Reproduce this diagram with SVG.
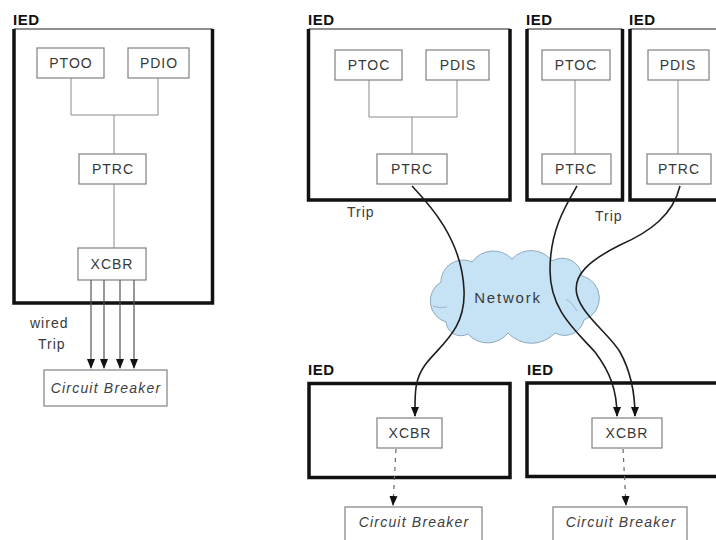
<svg xmlns="http://www.w3.org/2000/svg" width="716" height="540" viewBox="0 0 716 540">
  <style>
    .lbl { font-family: "Liberation Sans", Arial, sans-serif; font-size: 14px; fill: #383838; letter-spacing: 1px; }
    .ied { font-family: "Liberation Sans", Arial, sans-serif; font-size: 15px; font-weight: bold; fill: #111; letter-spacing: 0.5px; }
    .cb { font-family: "Liberation Sans", Arial, sans-serif; font-size: 14px; font-style: italic; fill: #404040; letter-spacing: 1.2px; }
    .ln { font-family: "Liberation Sans", Arial, sans-serif; font-size: 14px; fill: #3a3a3a; letter-spacing: 1px; }
    .box { fill: #fff; stroke: #808080; stroke-width: 1.2; }
    .thin { fill: none; stroke: #222; stroke-width: 1.2; }
    .thick { fill: none; stroke: #111; stroke-width: 3.5; }
    .wire { fill: none; stroke: #8a8a8a; stroke-width: 1; }
    .trip { fill: none; stroke: #1e1e1e; stroke-width: 1.6; }
    .hard { fill: none; stroke: #555; stroke-width: 1.2; }
    .dash { fill: none; stroke: #666; stroke-width: 1.2; stroke-dasharray: 4 5; }
  </style>
  <defs>
    <marker id="arrow" markerUnits="userSpaceOnUse" markerWidth="10" markerHeight="10" viewBox="0 0 10 10" refX="9" refY="5" orient="auto">
      <path d="M0,1 L10,5 L0,9 Z" fill="#111"/>
    </marker>
  </defs>

  <rect width="716" height="540" fill="#fff"/>

  <!-- IED frames -->
  <g id="ied-left">
    <text class="ied" x="13" y="25">IED</text>
    <path class="thin" d="M14 29 H212.5"/>
    <path class="thick" d="M14 29 V303 H212.5 V29"/>
  </g>
  <g id="ied-top-mid">
    <text class="ied" x="308" y="25">IED</text>
    <path class="thin" d="M308.5 29 H510"/>
    <path class="thick" d="M308.5 29 V200 H510 V29"/>
  </g>
  <g id="ied-top-right-a">
    <text class="ied" x="526" y="25">IED</text>
    <path class="thin" d="M527 29 H622.5"/>
    <path class="thick" d="M527 29 V200 H622.5 V29"/>
  </g>
  <g id="ied-top-right-b">
    <text class="ied" x="629" y="25">IED</text>
    <path class="thin" d="M630 29 H720"/>
    <path class="thick" d="M630 29 V200 H720"/>
  </g>
  <g id="ied-bottom-left">
    <text class="ied" x="308" y="375">IED</text>
    <rect class="thick" x="309" y="383.5" width="201" height="94"/>
  </g>
  <g id="ied-bottom-right">
    <text class="ied" x="527" y="375">IED</text>
    <path class="thick" d="M722 383 H527 V476.5 H722"/>
  </g>

  <!-- Network cloud -->
  <g id="network">
    <path d="M446 322 A22 22 0 0 1 441 282 A22 22 0 0 1 472 262 A26 26 0 0 1 512 259 A26 26 0 0 1 552 261 A20 20 0 0 1 582 276 A23 23 0 0 1 584 320 A20 20 0 0 1 555 333 A32 32 0 0 1 508 333 A26 26 0 0 1 468 334 A15 15 0 0 1 446 322 Z" fill="#c6e3f6" stroke="#8fa8bc" stroke-width="1"/>
    <path d="M433 306 Q440 309 447 307" fill="none" stroke="#8fa8bc" stroke-width="0.8"/>
    <path d="M566 299 Q573 303 577 311" fill="none" stroke="#8fa8bc" stroke-width="0.8"/>
    <text class="ln" x="508" y="303" text-anchor="middle" style="font-size:15px;letter-spacing:1.8px">Network</text>
  </g>

  <!-- Logical nodes, left IED -->
  <g id="ptoc-left"><rect class="box" x="37" y="48" width="67" height="30"/><text class="lbl" x="71" y="68" text-anchor="middle">PTOO</text></g>
  <g id="pdis-left"><rect class="box" x="128" y="48" width="61" height="30"/><text class="lbl" x="159" y="68" text-anchor="middle">PDIO</text></g>
  <g id="ptrc-left"><rect class="box" x="79" y="154" width="67" height="30"/><text class="lbl" x="113" y="174" text-anchor="middle">PTRC</text></g>
  <g id="xcbr-left"><rect class="box" x="78" y="248" width="68" height="32"/><text class="lbl" x="112" y="269" text-anchor="middle">XCBR</text></g>
  <g id="cb-left"><rect class="box" x="44" y="370" width="123" height="36"/><text class="cb" x="106" y="393" text-anchor="middle">Circuit Breaker</text></g>

  <!-- Logical nodes, upper middle IED -->
  <g id="ptoc-mid"><rect class="box" x="335" y="50" width="67" height="30"/><text class="lbl" x="369" y="70" text-anchor="middle">PTOC</text></g>
  <g id="pdis-mid"><rect class="box" x="426" y="50" width="63" height="30"/><text class="lbl" x="458" y="70" text-anchor="middle">PDIS</text></g>
  <g id="ptrc-mid"><rect class="box" x="377" y="154" width="70" height="30"/><text class="lbl" x="412" y="174" text-anchor="middle">PTRC</text></g>

  <!-- Logical nodes, upper right IEDs -->
  <g id="ptoc-right"><rect class="box" x="542" y="50" width="68" height="30"/><text class="lbl" x="576" y="70" text-anchor="middle">PTOC</text></g>
  <g id="ptrc-right-a"><rect class="box" x="542" y="154" width="69" height="30"/><text class="lbl" x="576" y="174" text-anchor="middle">PTRC</text></g>
  <g id="pdis-right"><rect class="box" x="648" y="50" width="61" height="30"/><text class="lbl" x="678" y="70" text-anchor="middle">PDIS</text></g>
  <g id="ptrc-right-b"><rect class="box" x="647" y="154" width="64" height="30"/><text class="lbl" x="679" y="174" text-anchor="middle">PTRC</text></g>

  <!-- Logical nodes, lower IEDs -->
  <g id="xcbr-bl"><rect class="box" x="377" y="418" width="65" height="30"/><text class="lbl" x="410" y="438" text-anchor="middle">XCBR</text></g>
  <g id="cb-bl"><rect class="box" x="345" y="507" width="137" height="40"/><text class="cb" x="414" y="527" text-anchor="middle">Circuit Breaker</text></g>
  <g id="xcbr-br"><rect class="box" x="592" y="418" width="70" height="30"/><text class="lbl" x="627" y="438" text-anchor="middle">XCBR</text></g>
  <g id="cb-br"><rect class="box" x="553" y="507" width="134" height="40"/><text class="cb" x="621" y="527" text-anchor="middle">Circuit Breaker</text></g>

  <!-- Free labels -->
  <g id="labels">
    <text class="ln" x="30" y="328">wired</text>
    <text class="ln" x="38" y="349">Trip</text>
    <text class="ln" x="347" y="217">Trip</text>
    <text class="ln" x="595" y="221">Trip</text>
  </g>

  <!-- Connectors -->
  <g id="connectors">
    <path class="wire" d="M71 78 V115 M158 78 V115 M71 115 H158 M114 115 V154 M114 184 V248"/>
    <path class="wire" d="M369 80 V117 M457 80 V117 M369 117 H457 M412 117 V154"/>
    <path class="wire" d="M575 80 V154 M678 80 V154"/>
    <path class="hard" d="M91 280 V368" marker-end="url(#arrow)"/>
    <path class="hard" d="M104 280 V368" marker-end="url(#arrow)"/>
    <path class="hard" d="M120 280 V368" marker-end="url(#arrow)"/>
    <path class="hard" d="M134 280 V368" marker-end="url(#arrow)"/>
    <path class="trip" d="M412 186 C430 205 462 240 464 290 C466 330 440 345 425 365 C414 380 415 395 415 416" marker-end="url(#arrow)"/>
    <path class="trip" d="M577 186 C566 205 550 230 550 270 C550 310 575 330 595 352 C610 372 617 390 617 416" marker-end="url(#arrow)"/>
    <path class="trip" d="M680 186 C673 215 650 232 620 245 C590 260 572 275 577 295 C582 315 610 335 620 352 C631 372 635 392 635 416" marker-end="url(#arrow)"/>
    <path class="dash" d="M396 449 L393 505" marker-end="url(#arrow)"/>
    <path class="dash" d="M623 449 L626 505" marker-end="url(#arrow)"/>
  </g>
</svg>
